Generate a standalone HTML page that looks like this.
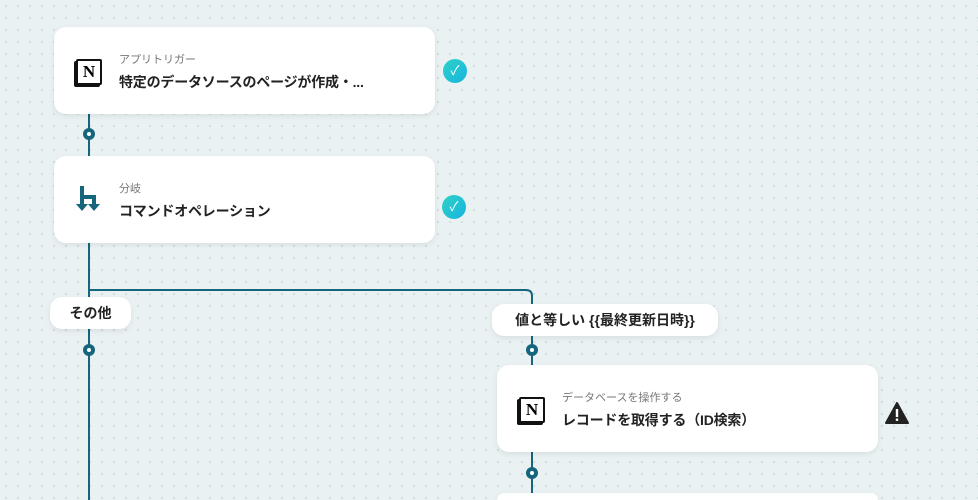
<!DOCTYPE html><html style="height:500px;overflow:hidden"><head><meta charset="utf-8"><style>
body{margin:0;width:978px;height:500px;overflow:hidden;background-color:#e9f1f3;background-image:radial-gradient(#cfdcdf 1px,transparent 1.2px);background-size:12px 12px;position:relative;font-family:"Liberation Sans","Noto Sans CJK JP",sans-serif}
.card{position:absolute;background:#fff;border-radius:12px;box-shadow:0 2px 6px rgba(0,0,0,.08);width:381px;height:87px}
.sub{position:absolute;left:65px;top:24px;font-size:11px;color:#777}
.ttl{position:absolute;left:65px;top:45px;font-size:14px;font-weight:bold;color:#222;letter-spacing:-0.2px}
.ic{position:absolute;left:22px;top:30px}
.lbl{position:absolute;background:#fff;border-radius:12px;box-shadow:0 2px 6px rgba(0,0,0,.08);font-size:14px;font-weight:bold;color:#222;text-align:center;line-height:32px;height:32px}
.chk{position:absolute;width:24px;height:24px;border-radius:50%;background:linear-gradient(135deg,#2fd2c6,#16b4e0);color:#fff;font-size:13px;text-align:center;line-height:24px}
.n{width:22px;height:22px;border:2px solid #111;font:bold 17px "Liberation Serif",serif;text-align:center;line-height:22px;border-radius:2px;box-shadow:-2px 2px 0 #111;background:#fff}
</style></head><body>
<svg width="978" height="500" style="position:absolute;left:0;top:0">
<g stroke="#15667c" stroke-width="2" fill="none">
<line x1="89" y1="114" x2="89" y2="156"/>
<line x1="89" y1="243" x2="89" y2="500"/>
<path d="M89 290 H526 Q532 290 532 296 V365"/>
<line x1="532" y1="452" x2="532" y2="495"/>
</g>
<g fill="#15667c"><circle cx="89" cy="134" r="6"/><circle cx="89" cy="350" r="6"/><circle cx="532" cy="350" r="6"/><circle cx="532" cy="473" r="6"/></g>
<g fill="#fff"><circle cx="89" cy="134" r="2"/><circle cx="89" cy="350" r="2"/><circle cx="532" cy="350" r="2"/><circle cx="532" cy="473" r="2"/></g>
</svg>
<div class="card" style="left:54px;top:27px"><div class="ic" style="top:32px"><div class="n">N</div></div><div class="sub">アプリトリガー</div><div class="ttl">特定のデータソースのページが作成・...</div></div>
<div class="chk" style="left:443px;top:59px">✓</div>
<div class="card" style="left:54px;top:156px"><svg class="ic" style="left:22px;top:30px" width="26" height="28"><g fill="#15667c"><rect x="4" y="0" width="4" height="22"/><rect x="4" y="9" width="16" height="4"/><rect x="16" y="9" width="4" height="13"/><path d="M0 18h12l-6 7z"/><path d="M12 18h12l-6 7z"/></g></svg><div class="sub">分岐</div><div class="ttl">コマンドオペレーション</div></div>
<div class="chk" style="left:442px;top:195px">✓</div>
<div class="lbl" style="left:50px;top:297px;width:81px">その他</div>
<div class="lbl" style="left:492px;top:304px;width:226px">値と等しい {{最終更新日時}}</div>
<div class="card" style="left:497px;top:365px"><div class="ic" style="top:32px"><div class="n">N</div></div><div class="sub">データベースを操作する</div><div class="ttl">レコードを取得する（ID検索）</div></div>
<svg style="position:absolute;left:885px;top:402px" width="24" height="22"><path d="M12 1 L23 21 H1 Z" fill="#222" stroke="#222" stroke-linejoin="round" stroke-width="2"/><rect x="10.8" y="7" width="2.4" height="8" fill="#fff"/><rect x="10.8" y="16.5" width="2.4" height="2.4" fill="#fff"/></svg>
<div class="card" style="left:497px;top:493px;height:7px;border-radius:12px 12px 0 0"></div>
</body></html>
